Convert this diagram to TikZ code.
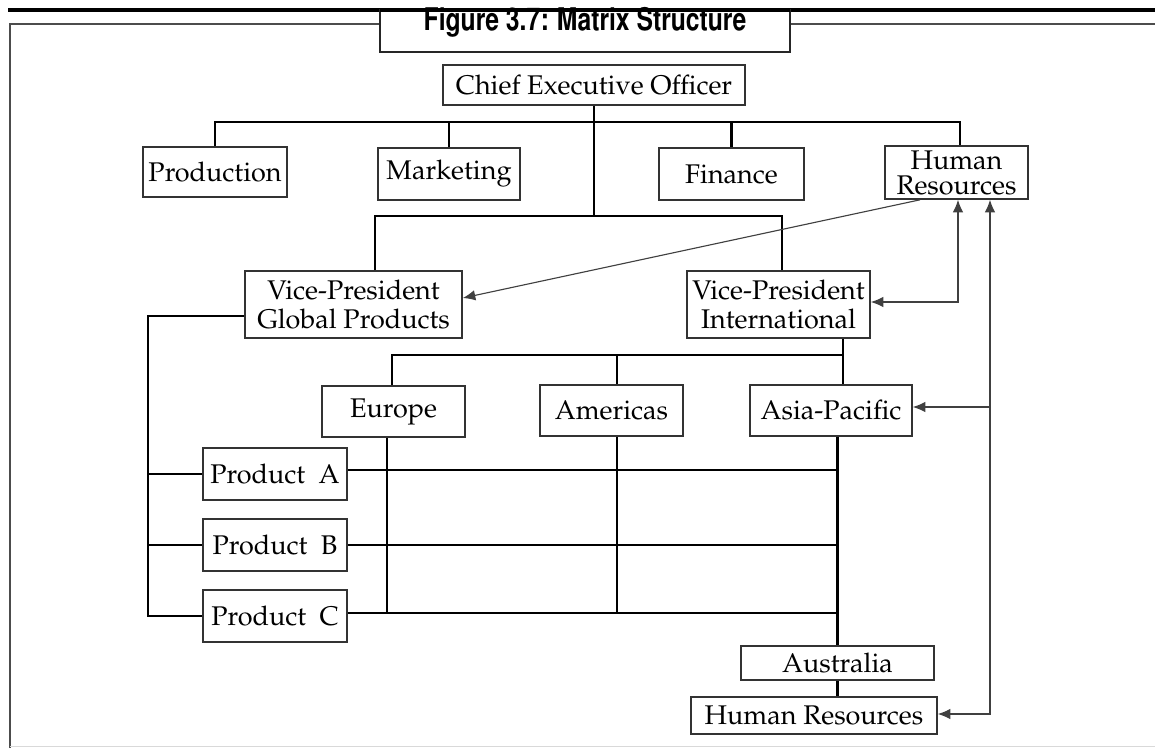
\documentclass[tikz,border=0pt]{standalone}
\usepackage[T1]{fontenc}
\usepackage{mathpazo}
\usetikzlibrary{calc,arrows.meta}
\begin{document}
\begin{tikzpicture}[x=0.4pt,y=-0.4pt,
  box/.style={draw=black!80, line width=0.65pt, inner sep=0pt, fill=white,
    font=\fontsize{10.8}{11.8}\selectfont, text=black, align=center},
  sz/.style 2 args={minimum width=#1*0.4pt, minimum height=#2*0.4pt},
  conn/.style={draw=black, line width=0.95pt},
  arr/.style={draw=black!75, line width=0.45pt, -{Latex[length=5pt,width=4.2pt]}},
  arrb/.style={draw=black!75, line width=0.45pt, {Latex[length=5pt,width=4.2pt]}-{Latex[length=5pt,width=4.2pt]}}
]
\useasboundingbox (0,0) rectangle (1155,748);
% frame
\draw[black!70, line width=0.8pt] (10,748) -- (10,24) -- (1155,24);
\draw[black!15, line width=0.4pt] (10,746) -- (1155,746);
\draw[black, line width=1.7pt] (8,10) -- (1155,10);
\node[draw=black!85, line width=0.8pt, fill=white, sz={410}{42}, inner sep=0pt] (title) at (585,31) {};
\node[font=\fontfamily{phv}\fontsize{12.5}{13}\bfseries\selectfont, inner sep=0pt] (titletext) at (585,23) {\scalebox{0.79}[1]{Figure 3.7: Matrix Structure}};
\draw[black, line width=1.7pt] (380,10) -- (790,10);

% nodes
\node[box, sz={302}{40}] (ceo) at (594,85) {Chief Executive Officer};
\node[box, sz={144}{50}] (prod) at (215,172) {Production};
\node[box, sz={142}{52}] (mkt) at (449,174) {Marketing};
\node[box, sz={145}{52}] (fin) at (731.5,174) {Finance};
\node[box, sz={143}{53}, font=\fontsize{10.8}{10}\selectfont] (hr) at (956.5,172.5) {Human\\Resources};
\node[box, sz={217}{67}] (vpg) at (353.5,304.5) {Vice-President\\Global Products};
\node[box, sz={183}{67}] (vpi) at (778.5,304.5) {Vice-President\\International};
\node[box, sz={143}{51}] (eur) at (393.5,411.5) {Europe};
\node[box, sz={143}{51}] (ame) at (611.5,410.5) {Americas};
\node[box, sz={162}{51}] (asia) at (831,410.5) {Asia-Pacific};
\node[box, sz={144}{52}] (pa) at (275,474) {Product~~A};
\node[box, sz={144}{52}] (pb) at (275,545) {Product~~B};
\node[box, sz={144}{52}] (pc) at (275,616) {Product~~C};
\node[box, sz={193}{34}] (aus) at (837.5,663) {Australia};
\node[box, sz={246}{37}] (hr2) at (814,715.5) {Human Resources};

% top level connectors
\coordinate (b1) at (594,122);
\coordinate (b2) at (594,216);
\draw[conn] (ceo.south) -- (b2);
\draw[conn] (prod.north) |- (b1) -| ($(hr.north)+(3.5,0)$);
\draw[conn] (mkt.north) -- (mkt.north |- b1);
\draw[conn] (fin.north) -- (fin.north |- b1);
\draw[conn] ($(vpg.north)+(21.5,0)$) |- (b2) -| ($(vpi.north)+(3.5,0)$);

% regions
\coordinate (b3) at (843,355);
\draw[conn] ($(vpi.south)+(64.5,0)$) -- ($(asia.north)+(12,0)$);
\draw[conn] ($(eur.north)+(-1.5,0)$) |- (b3);
\draw[conn] ($(ame.north)+(5.5,0)$) -- ($(ame.north |- b3)+(5.5,0)$);

% products
\coordinate (lx) at (148,0);
\draw[conn] ($(vpg.west)+(0,11.5)$) -| (lx |- pc.west) -- (pc.west);
\draw[conn] (lx |- pa.west) -- (pa.west);
\draw[conn] (lx |- pb.west) -- (pb.west);

% matrix
\draw[conn] (asia.south -| aus.north) -- (aus.north);
\draw[conn] ($(pa.east)+(0,-4)$) -- ($(pa.east -| aus.north)+(0,-4)$);
\draw[conn] (pb.east) -- (pb.east -| aus.north);
\draw[conn] ($(pc.east)+(0,-3)$) -- ($(pc.east -| aus.north)+(0,-3)$);
\draw[conn] ($(eur.south)+(-6.5,0)$) -- ($(eur.south |- pc.east)+(-6.5,-3)$);
\draw[conn] ($(ame.south)+(5.5,0)$) -- ($(ame.south |- pc.east)+(5.5,-3)$);
\draw[conn] (aus.south) -- (aus.south |- hr2.north);

% HR arrows
\draw[arr] ($(hr.south)+(-36.5,0)$) -- ($(vpg.east)+(0,-6.5)$);
\draw[arrb] ($(hr.south)+(1.5,0)$) |- ($(vpi.east)+(0,-2.5)$);
\coordinate (rx) at (990,0);
\draw[arrb] ($(hr.south)+(33.5,0)$) |- ($(hr2.east)+(0,-1.5)$);
\draw[arr] (rx |- asia.east) ++(0,-3.5) -- ($(asia.east)+(0,-3.5)$);
\end{tikzpicture}
\end{document}
